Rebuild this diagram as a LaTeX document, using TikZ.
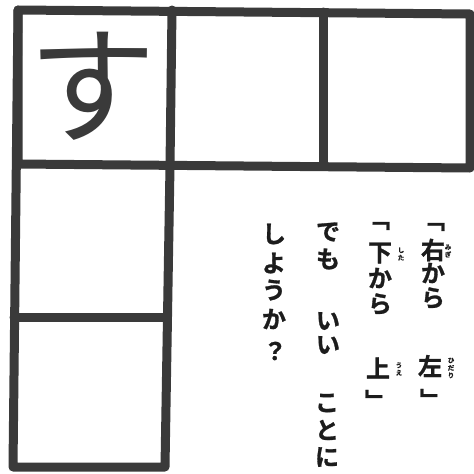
\documentclass[tikz,border=0pt]{standalone}
\usepackage{fontspec}
\newfontfamily\jp{Noto Sans CJK JP}
\newfontfamily\jpb{Noto Sans CJK JP Bold}[FakeBold=1.2]
\definecolor{ink}{RGB}{58,58,58}
\definecolor{txt}{RGB}{28,28,28}
\tikzset{
  gridline/.style={line width=9pt, draw=ink, line cap=round, line join=round},
  ch/.style={font=\jpb\fontsize{24}{24}\selectfont, text=txt, inner sep=0pt, anchor=center},
  brk/.style={font=\jpb\fontsize{24}{24}\selectfont, text=txt, inner sep=0pt, anchor=center},
  rb/.style={font=\jpb\fontsize{6.5}{7.5}\selectfont, text=txt, inner sep=0pt, align=center},
}
\begin{document}
\begin{tikzpicture}[x=1pt,y=-1pt]
\useasboundingbox (0,0) rectangle (474,474);
\fill[white] (0,0) rectangle (474,474);
% grid
\draw[gridline] (18,10) -- (470,14) -- (470,168) -- (18,164) -- cycle;
\draw[gridline] (18,10) -- (13,467) -- (165,467) -- (170,166) -- (172,10);
\draw[gridline] (323,12) -- (323,166);
\draw[gridline] (14,317) -- (167,317);
% hand-written kana
\node[font=\jp\fontsize{128}{128}\selectfont, text=ink, inner sep=0pt] (su) at (92,86) {す};
% column 1
\node[brk] (a0) at (433,227) {﹁};
\node[ch] (a1) at (433,250) {右};
\node[ch] (a2) at (433,273) {か};
\node[ch] (a3) at (433,298) {ら};
\node[ch] (a4) at (430,366) {左};
\node[brk] (a5) at (432,399) {﹂};
\node[rb] (ra1) at (448,251) {み\\ぎ};
\node[rb] (ra4) at (451,368) {ひ\\だ\\り};
% column 2
\node[brk] (b0) at (378,226) {﹁};
\node[ch] (b1) at (380,253) {下};
\node[ch] (b2) at (380,278) {か};
\node[ch] (b3) at (380,304) {ら};
\node[ch] (b4) at (378,368) {上};
\node[brk] (b5) at (377,400) {﹂};
\node[rb] (rb1) at (401,254) {し\\た};
\node[rb] (rb4) at (399,369) {う\\え};
% column 3
\node[ch] (c1) at (328,232) {で};
\node[ch] (c2) at (328,259) {も};
\node[ch] (c3) at (328,321) {い};
\node[ch] (c4) at (328,345) {い};
\node[ch] (c5) at (327,403) {こ};
\node[ch] (c6) at (327,430) {と};
\node[ch] (c7) at (327,457) {に};
% column 4
\node[ch] (d1) at (274,234) {し};
\node[ch] (d2) at (274,263) {よ};
\node[ch] (d3) at (274,290) {う};
\node[ch] (d4) at (274,319) {か};
\node[ch] (d5) at (275,351) {？};
\end{tikzpicture}
\end{document}
